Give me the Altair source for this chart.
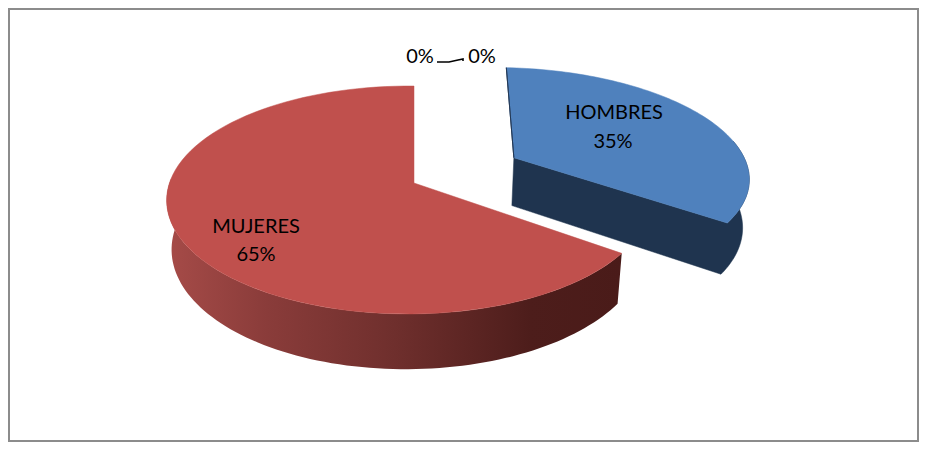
import math
import altair as alt
import pandas as pd

# ---- values
categories = ["HOMBRES", "MUJERES", "", ""]
shares = [35, 65, 0, 0]
percent_labels = ["35%", "65%", "0%", "0%"]

# ---- layout of the tilted, perspective disc (pixels of the page)
CX, CY, RX, RY = 414, 183, 239, 111.4
TILT, SKEW = 0.149, 0.0227
EXPLODE_DIR, EXPLODE = 61.5, 0.497
W, H = 911, 434
OFF = 8


def project(theta, r=1.0, z=0.0, explode=0.0, f=1.0, depth=47):
    t = math.radians(theta)
    e = math.radians(EXPLODE_DIR)
    ox, oy = explode * math.sin(e), explode * math.cos(e)
    u0, v0 = ox, oy
    u = u0 + r * math.sin(t)
    v = v0 + r * math.cos(t)

    def pt(u, v):
        d = 1 + TILT * v + SKEW * u
        return CX + RX * u / d, CY - RY * v / d, d

    x, y, d = pt(u, v)
    ax, ay, _ = pt(u0, v0)
    x = ax + (x - ax) * f
    x = CX + (x - CX) * (1 - 0.02 * z)
    y = y + z * depth / d
    return x, y


def arc(a, b, n=90, **kw):
    return [project(a + (b - a) * i / n, **kw) for i in range(n + 1)]


def frame(points):
    return pd.DataFrame(
        [{"x": p[0], "y": p[1], "i": i} for i, p in enumerate(points)]
    )


xs = alt.Scale(domain=[OFF, OFF + W], range=[0, W])
ys = alt.Scale(domain=[OFF, OFF + H], range=[0, H])
X = alt.X("x:Q", scale=xs, axis=None)
Y = alt.Y("y:Q", scale=ys, axis=None)


def poly(points, fill, stroke=None, sw=0.0):
    kw = {"fill": fill, "strokeWidth": sw, "stroke": stroke or "transparent"}
    return (
        alt.Chart(frame(points))
        .mark_line(interpolate="linear-closed", **kw)
        .encode(x=X, y=Y, order="i:Q")
    )


# slice angles from the shares, clockwise from the top
a_blue = shares[0] / sum(shares) * 360
ROT = 1.5
BLUE = dict(explode=EXPLODE, f=1.04)

red_top = [project(0, r=0)] + arc(a_blue, 360)
red_wall = arc(a_blue, 272) + arc(272, a_blue, z=1)
blue_top = [project(0, r=0, **BLUE)] + arc(ROT, a_blue, **BLUE)
blue_wall = (
    [project(0, r=0, **BLUE), project(0, r=0, z=1, depth=50, **BLUE)]
    + arc(a_blue, 80, z=1, depth=50, **BLUE)
    + arc(80, a_blue, **BLUE)
)
blue_edge = [project(0, r=0, **BLUE), project(ROT, **BLUE)]

red_gradient = alt.Gradient(
    gradient="linear",
    x1=0, x2=1, y1=0, y2=0,
    stops=[
        alt.GradientStop(color="#A64B48", offset=0),
        alt.GradientStop(color="#8A3C3A", offset=0.22),
        alt.GradientStop(color="#6F2F2D", offset=0.5),
        alt.GradientStop(color="#4D1D1B", offset=0.8),
        alt.GradientStop(color="#4A1B19", offset=1),
    ],
)

frame_box = (
    alt.Chart(pd.DataFrame({"x": [OFF + 1], "y": [OFF + 1],
                            "x2": [OFF + W - 1], "y2": [OFF + H - 1]}))
    .mark_rect(fill="white", stroke="#8C8C8C", strokeWidth=2)
    .encode(x=X, y=Y, x2="x2:Q", y2="y2:Q")
)

label_df = pd.DataFrame(
    {
        "name": [categories[0], percent_labels[0], categories[1], percent_labels[1],
                 percent_labels[2], percent_labels[3]],
        "x": [614, 613, 256, 256, 420, 482],
        "y": [113, 142, 227, 255, 57, 57],
    }
)
labels = (
    alt.Chart(label_df)
    .mark_text(font="Lato", fontSize=20, color="black", align="center", baseline="middle")
    .encode(x=X, y=Y, text="name:N")
)

leader = (
    alt.Chart(pd.DataFrame({"x": [437, 449, 458, 463, 463],
                            "y": [62, 62, 60, 59, 61], "i": [0, 1, 2, 3, 4]}))
    .mark_line(color="black", strokeWidth=1.6)
    .encode(x=X, y=Y, order="i:Q")
)

chart = alt.layer(
    frame_box,
    poly(red_wall, red_gradient),
    poly(red_top, "#C0504D", "#C0504D", 0.5),
    poly(blue_wall, "#1F344F", "#1F344F", 0.5),
    poly(blue_top, "#4F81BD", "#4F81BD", 0.5),
    poly(blue_edge, "#1F344F", "#1F344F", 0.8),
    leader,
    labels,
).properties(
    width=W, height=H, padding=0,
    autosize=alt.AutoSizeParams(type="none"),
).configure_view(stroke=None).configure(background="white")

chart.save("out.html", embed_options={"renderer": "svg", "actions": False})
